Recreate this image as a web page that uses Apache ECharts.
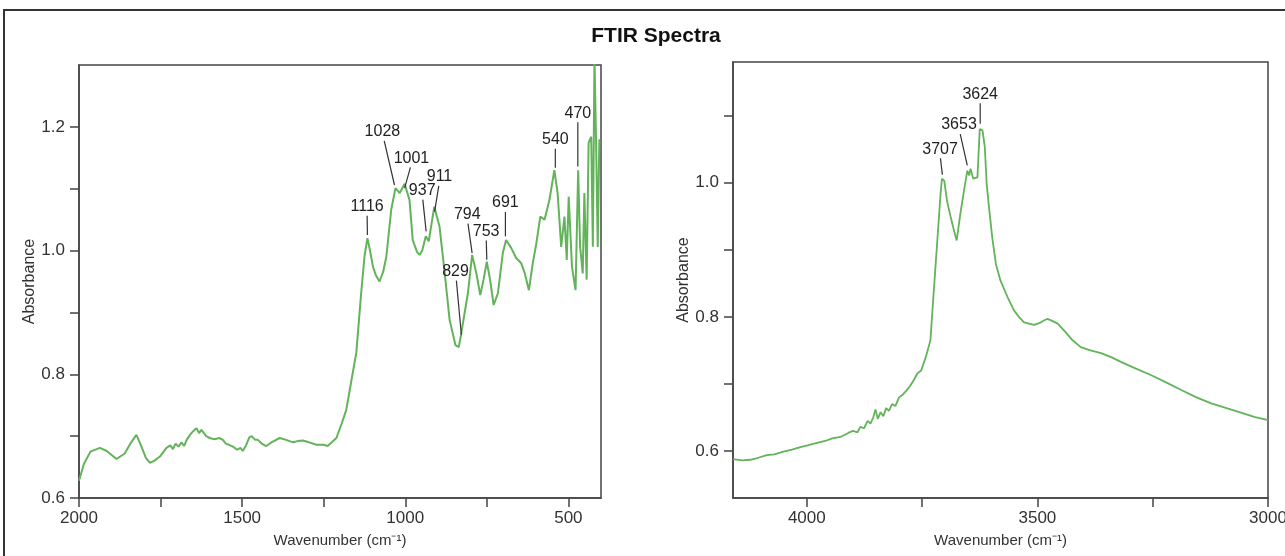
<!DOCTYPE html>
<html>
<head>
<meta charset="utf-8">
<script src="https://cdn.jsdelivr.net/npm/echarts@6/dist/echarts.min.js"></script>
<style>
html,body{margin:0;padding:0;background:#fff;}
#c{width:1285px;height:556px;}
</style>
</head>
<body>
<div id="c"></div>
<script>
// ---- Left spectrum (fingerprint region) ----
const leftWave = [2000,1985,1965,1936,1915,1885,1860,1840,1824,1810,1795,1783,1770,1752,1732,1720,1712,1704,1695,1686,1678,1670,1660,1650,1640,1632,1625,1610,1599,1585,1570,1559,1550,1540,1528,1515,1505,1498,1488,1478,1471,1460,1452,1440,1426,1410,1385,1365,1344,1330,1314,1295,1272,1250,1238,1225,1211,1195,1181,1165,1150,1135,1125,1116,1108,1099,1090,1079,1068,1058,1043,1030,1017,1002,987,977,964,956,948,937,928,911,895,879,864,846,836,829,808,795,782,770,760,750,740,729,716,701,691,675,660,645,634,621,609,599,586,573,558,543,533,522,512,505,499,489,478,470,464,456,451,444,438,430,425,420,415,410,405];
const leftAbs  = [0.628,0.655,0.675,0.681,0.676,0.663,0.672,0.690,0.702,0.685,0.665,0.657,0.660,0.667,0.681,0.685,0.679,0.688,0.683,0.690,0.684,0.694,0.702,0.708,0.713,0.705,0.710,0.700,0.697,0.695,0.697,0.694,0.688,0.686,0.683,0.678,0.681,0.676,0.685,0.698,0.700,0.694,0.694,0.688,0.684,0.690,0.697,0.694,0.690,0.692,0.693,0.690,0.686,0.686,0.684,0.690,0.697,0.720,0.742,0.790,0.835,0.932,0.990,1.020,1.000,0.974,0.960,0.950,0.965,0.990,1.066,1.101,1.093,1.108,1.082,1.017,0.998,0.993,1.000,1.023,1.015,1.071,1.039,0.963,0.888,0.847,0.844,0.864,0.931,0.993,0.963,0.928,0.953,0.982,0.953,0.912,0.931,0.996,1.017,1.004,0.988,0.980,0.964,0.936,0.980,1.009,1.055,1.050,1.082,1.130,1.093,1.006,1.055,0.985,1.087,0.974,0.936,1.130,1.006,0.963,1.093,0.953,1.174,1.184,1.006,1.310,1.174,1.006,1.180];

// Left peak annotations: label, text anchor (wavenumber, absorbance), leader tip (wavenumber, absorbance)
const leftPeakLabels = ['1116','1028','1001','937','911','829','794','753','691','540','470'];
const leftTextWave   = [1117,1070,981,948,895,846,810,752,693,540,471];
const leftTextAbs    = [1.071,1.192,1.149,1.097,1.119,0.966,1.058,1.031,1.077,1.179,1.222];
const leftTipWave    = [1116,1033,1002,936,910,828,795,750,693,540,471];
const leftTipAbs     = [1.025,1.106,1.101,1.031,1.063,0.864,0.996,0.985,1.023,1.134,1.136];

// ---- Right spectrum (OH stretching region) ----
const rightWave = [4160,4140,4123,4105,4087,4070,4051,4032,4014,3996,3978,3960,3945,3927,3910,3900,3890,3884,3876,3868,3862,3856,3851,3846,3840,3834,3828,3822,3815,3808,3800,3792,3784,3776,3768,3760,3752,3742,3732,3725,3716,3710,3707,3702,3696,3688,3681,3675,3667,3658,3652,3648,3645,3639,3630,3625,3619,3614,3610,3605,3598,3590,3580,3565,3551,3540,3529,3518,3507,3495,3485,3478,3468,3456,3440,3425,3406,3385,3362,3340,3319,3290,3253,3220,3188,3155,3123,3090,3057,3030,3000];
const rightAbs  = [0.588,0.586,0.587,0.590,0.594,0.595,0.599,0.602,0.606,0.609,0.612,0.615,0.619,0.621,0.627,0.630,0.628,0.636,0.634,0.645,0.641,0.650,0.662,0.648,0.658,0.652,0.664,0.660,0.670,0.667,0.680,0.684,0.690,0.697,0.706,0.716,0.720,0.740,0.765,0.835,0.924,0.983,1.006,1.003,0.973,0.949,0.929,0.914,0.954,0.993,1.018,1.011,1.021,1.006,1.008,1.080,1.078,1.053,0.998,0.964,0.919,0.879,0.854,0.830,0.810,0.800,0.792,0.790,0.788,0.791,0.795,0.797,0.794,0.790,0.778,0.766,0.755,0.750,0.746,0.740,0.733,0.724,0.713,0.702,0.691,0.680,0.671,0.664,0.657,0.651,0.646];

const rightPeakLabels = ['3624','3653','3707'];
const rightTextWave   = [3624,3670,3711];
const rightTextAbs    = [1.132,1.086,1.050];
const rightTipWave    = [3624,3652,3706];
const rightTipAbs     = [1.088,1.026,1.012];

// Axis tick values
const leftYTicks  = [0.6,0.7,0.8,0.9,1.0,1.1,1.2];
const leftYLabels = [0.6,0.8,1.0,1.2];
const leftXTicks  = [500,750,1000,1250,1500,1750,2000];
const leftXLabels = [500,1000,1500,2000];
const rightYTicks  = [0.6,0.7,0.8,0.9,1.0,1.1];
const rightYLabels = [0.6,0.8,1.0];
const rightXTicks  = [3000,3250,3500,3750,4000];
const rightXLabels = [3000,3500,4000];

const FONT = 'Liberation Sans, Arial, sans-serif';
const GREEN = '#62b35a';
const AX = '#444';

const zip = (a, b) => a.map((v, i) => [v, b[i]]);
const annot = (labels, tw, ta, pw, pa) => labels.map((l, i) => [tw[i], ta[i], pw[i], pa[i], l]);

function renderAnnot(params, api) {
  const t = api.coord([api.value(0), api.value(1)]);
  const p = api.coord([api.value(2), api.value(3)]);
  const label = api.value(4);
  return {
    type: 'group',
    children: [
      { type: 'text', x: t[0], y: t[1],
        style: { text: String(label), align: 'center', verticalAlign: 'middle',
                 textAlign: 'center', textVerticalAlign: 'middle',
                 font: '16px ' + FONT, fill: '#222' } },
      { type: 'line', shape: { x1: t[0] + (p[0] - t[0]) * 0.15, y1: t[1] + 9, x2: p[0], y2: p[1] },
        style: { stroke: '#333', lineWidth: 1.2 } }
    ]
  };
}

function xAxisCfg(idx, min, max, ticks, labels) {
  return {
    type: 'value', gridIndex: idx, min: min, max: max, inverse: true,
    name: 'Wavenumber (cm\u207B\u00B9)', nameLocation: 'middle', nameGap: 35,
    nameTextStyle: { fontFamily: FONT, fontSize: 15, color: '#333' },
    axisLine: { show: true, lineStyle: { color: AX, width: 1.5 } },
    axisTick: { show: true, inside: false, length: 9, customValues: ticks, lineStyle: { color: AX, width: 1.5 } },
    axisLabel: { customValues: labels, formatter: v => String(Math.round(v)),
                 fontFamily: FONT, fontSize: 17, color: '#333', margin: 12,
                 showMinLabel: true, showMaxLabel: true, hideOverlap: false },
    splitLine: { show: false }
  };
}
function yAxisCfg(idx, min, max, ticks, labels, gap) {
  return {
    type: 'value', gridIndex: idx, min: min, max: max,
    name: 'Absorbance', nameLocation: 'middle', nameGap: gap, nameRotate: 90,
    nameTextStyle: { fontFamily: FONT, fontSize: 16, color: '#333' },
    axisLine: { show: true, lineStyle: { color: AX, width: 1.5 } },
    axisTick: { show: true, inside: false, length: 9, customValues: ticks, lineStyle: { color: AX, width: 1.5 } },
    axisLabel: { customValues: labels, formatter: v => Number(v).toFixed(1),
                 fontFamily: FONT, fontSize: 17, color: '#333', margin: 14 },
    splitLine: { show: false }
  };
}

const chart = echarts.init(document.getElementById('c'), null, { renderer: 'canvas' });
chart.setOption({
  animation: false,
  backgroundColor: '#fff',
  title: {
    text: 'FTIR Spectra', left: 651, top: 21, textAlign: 'center',
    textStyle: { fontFamily: FONT, fontWeight: 'bold', fontSize: 21, color: '#111' }
  },
  graphic: [{
    type: 'rect', shape: { x: 4, y: 10, width: 1300, height: 570 },
    style: { fill: 'none', stroke: '#333', lineWidth: 2 }, silent: true, z: 100
  }],
  grid: [
    { left: 79, top: 65, width: 522, height: 433, show: true, borderColor: AX, borderWidth: 1.5,
      backgroundColor: 'transparent', containLabel: false, outerBoundsMode: 'none' },
    { left: 733, top: 62, width: 535, height: 436, show: true, borderColor: AX, borderWidth: 1.5,
      backgroundColor: 'transparent', containLabel: false, outerBoundsMode: 'none' }
  ],
  xAxis: [
    xAxisCfg(0, 400, 2000, leftXTicks, leftXLabels),
    xAxisCfg(1, 3000, 4160, rightXTicks, rightXLabels)
  ],
  yAxis: [
    yAxisCfg(0, 0.6, 1.3, leftYTicks, leftYLabels, 38),
    yAxisCfg(1, 0.53, 1.18, rightYTicks, rightYLabels, 41)
  ],
  series: [
    { type: 'line', xAxisIndex: 0, yAxisIndex: 0, data: zip(leftWave, leftAbs),
      showSymbol: false, symbol: 'none', clip: true,
      lineStyle: { color: GREEN, width: 2 } },
    { type: 'line', xAxisIndex: 1, yAxisIndex: 1, data: zip(rightWave, rightAbs),
      showSymbol: false, symbol: 'none', clip: true,
      lineStyle: { color: GREEN, width: 1.8 } },
    { type: 'custom', xAxisIndex: 0, yAxisIndex: 0, renderItem: renderAnnot,
      data: annot(leftPeakLabels, leftTextWave, leftTextAbs, leftTipWave, leftTipAbs), z: 5 },
    { type: 'custom', xAxisIndex: 1, yAxisIndex: 1, renderItem: renderAnnot,
      data: annot(rightPeakLabels, rightTextWave, rightTextAbs, rightTipWave, rightTipAbs), z: 5 }
  ]
});
</script>
</body>
</html>
